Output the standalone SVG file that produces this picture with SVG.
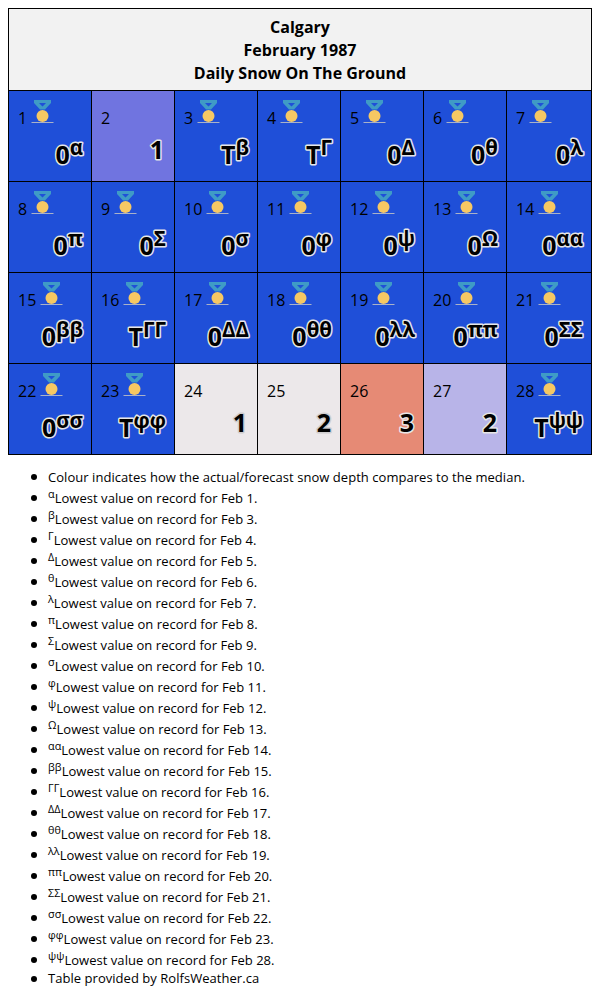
<svg xmlns="http://www.w3.org/2000/svg" width="600" height="1000" viewBox="0 0 600 1000">
<style>
text{font-family:"Open Sans","Noto Sans","DejaVu Sans",sans-serif;fill:#000}
.t{font-size:16px;font-weight:700;text-anchor:middle}
.c{stroke:#000;stroke-width:1}
.b{fill:#1f4fd8}.w{fill:#ece8ea}
.n{font-size:16px}
.v{font-size:25px;font-weight:700;text-anchor:end;stroke:#e6e6e6;stroke-width:3px;paint-order:stroke;stroke-linejoin:round}
.x{stroke:#cfcdce}
.s{font-size:20.500px}
.l{font-size:13px;letter-spacing:.04px}
.u{font-size:10.800px}
</style>
<defs>
<g id="m">
<path d="M-8.500-16H8.500L8.500-13L2.500-6.500H-2.500L-8.500-13Z M-3.500-13L0-9.500L3.500-13Z" fill="#3f9bc6" fill-rule="evenodd"/>
<rect x="-11" y="6" width="22" height="1" fill="#aab2c8"/>
<circle cx="0" cy="0" r="6" fill="#f6c863"/>
</g>
<circle id="d" r="3" fill="#000"/>
</defs>
<g id="title"><rect class="c" x="8.500" y="8.500" width="583" height="82" fill="#f2f2f2"/>
<text class="t" x="300" y="33">Calgary</text><text class="t" x="300" y="56">February 1987</text><text class="t" x="300" y="79">Daily Snow On The Ground</text></g>
<g id="d1"><rect class="c b" x="8.500" y="90.500" width="83" height="91"/><text class="n" x="18" y="124">1</text><use href="#m" x="42.500" y="116"/><text class="v" x="83" y="164">0<tspan class="s" dy="-9">α</tspan></text></g>
<g id="d2"><rect class="c" fill="#7074e0" x="91.500" y="90.500" width="83" height="91"/><text class="n" x="101" y="124">2</text><text class="v" x="164" y="159">1</text></g>
<g id="d3"><rect class="c b" x="174.500" y="90.500" width="83" height="91"/><text class="n" x="184" y="124">3</text><use href="#m" x="208.500" y="116"/><text class="v" x="249" y="164">T<tspan class="s" dy="-9">β</tspan></text></g>
<g id="d4"><rect class="c b" x="257.500" y="90.500" width="83" height="91"/><text class="n" x="267" y="124">4</text><use href="#m" x="291.500" y="116"/><text class="v" x="332" y="164">T<tspan class="s" dy="-9">Γ</tspan></text></g>
<g id="d5"><rect class="c b" x="340.500" y="90.500" width="83" height="91"/><text class="n" x="350" y="124">5</text><use href="#m" x="374.500" y="116"/><text class="v" x="415" y="164">0<tspan class="s" dy="-9">Δ</tspan></text></g>
<g id="d6"><rect class="c b" x="423.500" y="90.500" width="83" height="91"/><text class="n" x="433" y="124">6</text><use href="#m" x="457.500" y="116"/><text class="v" x="498" y="164">0<tspan class="s" dy="-9">θ</tspan></text></g>
<g id="d7"><rect class="c b" x="506.500" y="90.500" width="85" height="91"/><text class="n" x="516" y="124">7</text><use href="#m" x="540.500" y="116"/><text class="v" x="583" y="164">0<tspan class="s" dy="-9">λ</tspan></text></g>
<g id="d8"><rect class="c b" x="8.500" y="181.500" width="83" height="91"/><text class="n" x="18" y="215">8</text><use href="#m" x="42.500" y="207"/><text class="v" x="83" y="255">0<tspan class="s" dy="-9">π</tspan></text></g>
<g id="d9"><rect class="c b" x="91.500" y="181.500" width="83" height="91"/><text class="n" x="101" y="215">9</text><use href="#m" x="125.500" y="207"/><text class="v" x="166" y="255">0<tspan class="s" dy="-9">Σ</tspan></text></g>
<g id="d10"><rect class="c b" x="174.500" y="181.500" width="83" height="91"/><text class="n" x="184" y="215">10</text><use href="#m" x="217.500" y="207"/><text class="v" x="249" y="255">0<tspan class="s" dy="-9">σ</tspan></text></g>
<g id="d11"><rect class="c b" x="257.500" y="181.500" width="83" height="91"/><text class="n" x="267" y="215">11</text><use href="#m" x="300.500" y="207"/><text class="v" x="332" y="255">0<tspan class="s" dy="-9">φ</tspan></text></g>
<g id="d12"><rect class="c b" x="340.500" y="181.500" width="83" height="91"/><text class="n" x="350" y="215">12</text><use href="#m" x="383.500" y="207"/><text class="v" x="415" y="255">0<tspan class="s" dy="-9">ψ</tspan></text></g>
<g id="d13"><rect class="c b" x="423.500" y="181.500" width="83" height="91"/><text class="n" x="433" y="215">13</text><use href="#m" x="466.500" y="207"/><text class="v" x="498" y="255">0<tspan class="s" dy="-9">Ω</tspan></text></g>
<g id="d14"><rect class="c b" x="506.500" y="181.500" width="85" height="91"/><text class="n" x="516" y="215">14</text><use href="#m" x="549.500" y="207"/><text class="v" x="583" y="255">0<tspan class="s" dy="-9">αα</tspan></text></g>
<g id="d15"><rect class="c b" x="8.500" y="272.500" width="83" height="91"/><text class="n" x="18" y="306">15</text><use href="#m" x="51.500" y="298"/><text class="v" x="83" y="346">0<tspan class="s" dy="-9">ββ</tspan></text></g>
<g id="d16"><rect class="c b" x="91.500" y="272.500" width="83" height="91"/><text class="n" x="101" y="306">16</text><use href="#m" x="134.500" y="298"/><text class="v" x="166" y="346">T<tspan class="s" dy="-9">ΓΓ</tspan></text></g>
<g id="d17"><rect class="c b" x="174.500" y="272.500" width="83" height="91"/><text class="n" x="184" y="306">17</text><use href="#m" x="217.500" y="298"/><text class="v" x="249" y="346">0<tspan class="s" dy="-9">ΔΔ</tspan></text></g>
<g id="d18"><rect class="c b" x="257.500" y="272.500" width="83" height="91"/><text class="n" x="267" y="306">18</text><use href="#m" x="300.500" y="298"/><text class="v" x="332" y="346">0<tspan class="s" dy="-9">θθ</tspan></text></g>
<g id="d19"><rect class="c b" x="340.500" y="272.500" width="83" height="91"/><text class="n" x="350" y="306">19</text><use href="#m" x="383.500" y="298"/><text class="v" x="415" y="346">0<tspan class="s" dy="-9">λλ</tspan></text></g>
<g id="d20"><rect class="c b" x="423.500" y="272.500" width="83" height="91"/><text class="n" x="433" y="306">20</text><use href="#m" x="466.500" y="298"/><text class="v" x="498" y="346">0<tspan class="s" dy="-9">ππ</tspan></text></g>
<g id="d21"><rect class="c b" x="506.500" y="272.500" width="85" height="91"/><text class="n" x="516" y="306">21</text><use href="#m" x="549.500" y="298"/><text class="v" x="583" y="346">0<tspan class="s" dy="-9">ΣΣ</tspan></text></g>
<g id="d22"><rect class="c b" x="8.500" y="363.500" width="83" height="91"/><text class="n" x="18" y="397">22</text><use href="#m" x="51.500" y="389"/><text class="v" x="83" y="437">0<tspan class="s" dy="-9">σσ</tspan></text></g>
<g id="d23"><rect class="c b" x="91.500" y="363.500" width="83" height="91"/><text class="n" x="101" y="397">23</text><use href="#m" x="134.500" y="389"/><text class="v" x="166" y="437">T<tspan class="s" dy="-9">φφ</tspan></text></g>
<g id="d24"><rect class="c w" x="174.500" y="363.500" width="83" height="91"/><text class="n" x="184" y="397">24</text><text class="v x" x="247" y="432">1</text></g>
<g id="d25"><rect class="c w" x="257.500" y="363.500" width="83" height="91"/><text class="n" x="267" y="397">25</text><text class="v x" x="331" y="432">2</text></g>
<g id="d26"><rect class="c" fill="#e68a75" x="340.500" y="363.500" width="83" height="91"/><text class="n" x="350" y="397">26</text><text class="v" x="414" y="432">3</text></g>
<g id="d27"><rect class="c" fill="#b8b4e8" x="423.500" y="363.500" width="83" height="91"/><text class="n" x="433" y="397">27</text><text class="v" x="497" y="432">2</text></g>
<g id="d28"><rect class="c b" x="506.500" y="363.500" width="85" height="91"/><text class="n" x="516" y="397">28</text><use href="#m" x="549.500" y="389"/><text class="v" x="583" y="437">T<tspan class="s" dy="-9">ψψ</tspan></text></g>
<g id="legend">
<use href="#d" x="34" y="477"/><text class="l" x="48" y="482">Colour indicates how the actual/forecast snow depth compares to the median.</text>
<use href="#d" x="34" y="498"/><text class="l" x="48" y="503"><tspan class="u" dy="-5">α</tspan><tspan dy="5">Lowest value on record for Feb 1.</tspan></text>
<use href="#d" x="34" y="519"/><text class="l" x="48" y="524"><tspan class="u" dy="-5">β</tspan><tspan dy="5">Lowest value on record for Feb 3.</tspan></text>
<use href="#d" x="34" y="540"/><text class="l" x="48" y="545"><tspan class="u" dy="-5">Γ</tspan><tspan dy="5">Lowest value on record for Feb 4.</tspan></text>
<use href="#d" x="34" y="561"/><text class="l" x="48" y="566"><tspan class="u" dy="-5">Δ</tspan><tspan dy="5">Lowest value on record for Feb 5.</tspan></text>
<use href="#d" x="34" y="582"/><text class="l" x="48" y="587"><tspan class="u" dy="-5">θ</tspan><tspan dy="5">Lowest value on record for Feb 6.</tspan></text>
<use href="#d" x="34" y="603"/><text class="l" x="48" y="608"><tspan class="u" dy="-5">λ</tspan><tspan dy="5">Lowest value on record for Feb 7.</tspan></text>
<use href="#d" x="34" y="624"/><text class="l" x="48" y="629"><tspan class="u" dy="-5">π</tspan><tspan dy="5">Lowest value on record for Feb 8.</tspan></text>
<use href="#d" x="34" y="645"/><text class="l" x="48" y="650"><tspan class="u" dy="-5">Σ</tspan><tspan dy="5">Lowest value on record for Feb 9.</tspan></text>
<use href="#d" x="34" y="666"/><text class="l" x="48" y="671"><tspan class="u" dy="-5">σ</tspan><tspan dy="5">Lowest value on record for Feb 10.</tspan></text>
<use href="#d" x="34" y="687"/><text class="l" x="48" y="692"><tspan class="u" dy="-5">φ</tspan><tspan dy="5">Lowest value on record for Feb 11.</tspan></text>
<use href="#d" x="34" y="708"/><text class="l" x="48" y="713"><tspan class="u" dy="-5">ψ</tspan><tspan dy="5">Lowest value on record for Feb 12.</tspan></text>
<use href="#d" x="34" y="729"/><text class="l" x="48" y="734"><tspan class="u" dy="-5">Ω</tspan><tspan dy="5">Lowest value on record for Feb 13.</tspan></text>
<use href="#d" x="34" y="750"/><text class="l" x="48" y="755"><tspan class="u" dy="-5">αα</tspan><tspan dy="5">Lowest value on record for Feb 14.</tspan></text>
<use href="#d" x="34" y="771"/><text class="l" x="48" y="776"><tspan class="u" dy="-5">ββ</tspan><tspan dy="5">Lowest value on record for Feb 15.</tspan></text>
<use href="#d" x="34" y="792"/><text class="l" x="48" y="797"><tspan class="u" dy="-5">ΓΓ</tspan><tspan dy="5">Lowest value on record for Feb 16.</tspan></text>
<use href="#d" x="34" y="813"/><text class="l" x="48" y="818"><tspan class="u" dy="-5">ΔΔ</tspan><tspan dy="5">Lowest value on record for Feb 17.</tspan></text>
<use href="#d" x="34" y="834"/><text class="l" x="48" y="839"><tspan class="u" dy="-5">θθ</tspan><tspan dy="5">Lowest value on record for Feb 18.</tspan></text>
<use href="#d" x="34" y="855"/><text class="l" x="48" y="860"><tspan class="u" dy="-5">λλ</tspan><tspan dy="5">Lowest value on record for Feb 19.</tspan></text>
<use href="#d" x="34" y="876"/><text class="l" x="48" y="881"><tspan class="u" dy="-5">ππ</tspan><tspan dy="5">Lowest value on record for Feb 20.</tspan></text>
<use href="#d" x="34" y="897"/><text class="l" x="48" y="902"><tspan class="u" dy="-5">ΣΣ</tspan><tspan dy="5">Lowest value on record for Feb 21.</tspan></text>
<use href="#d" x="34" y="918"/><text class="l" x="48" y="923"><tspan class="u" dy="-5">σσ</tspan><tspan dy="5">Lowest value on record for Feb 22.</tspan></text>
<use href="#d" x="34" y="939"/><text class="l" x="48" y="944"><tspan class="u" dy="-5">φφ</tspan><tspan dy="5">Lowest value on record for Feb 23.</tspan></text>
<use href="#d" x="34" y="960"/><text class="l" x="48" y="965"><tspan class="u" dy="-5">ψψ</tspan><tspan dy="5">Lowest value on record for Feb 28.</tspan></text>
<use href="#d" x="34" y="979"/><text class="l" x="48" y="983">Table provided by RolfsWeather.ca</text>
</g>
</svg>
